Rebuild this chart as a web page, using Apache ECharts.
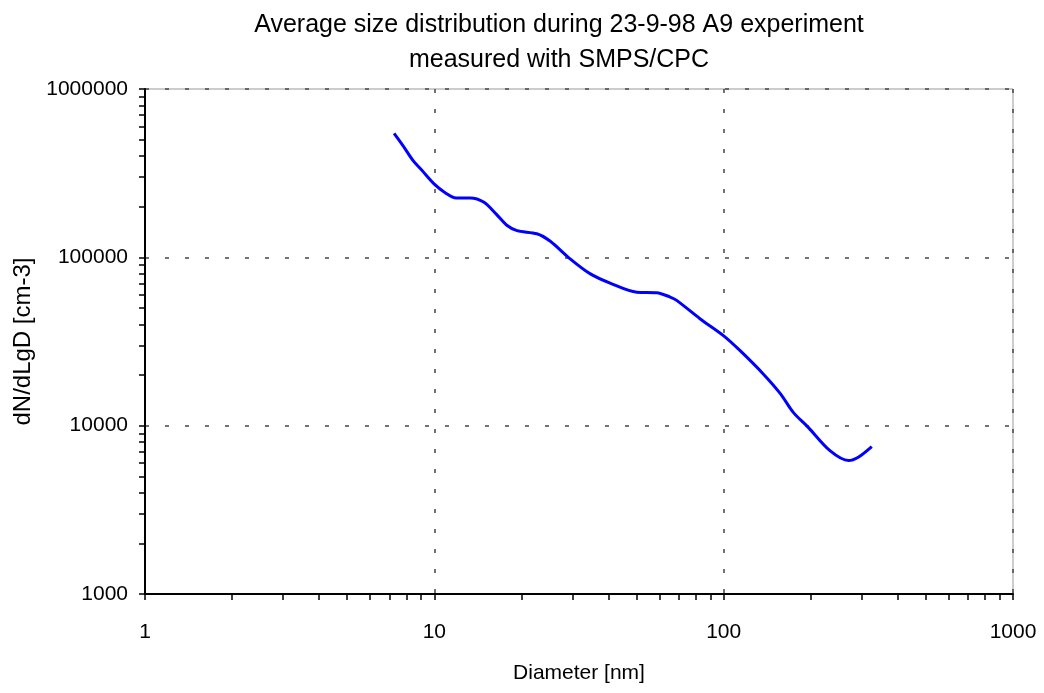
<!DOCTYPE html>
<html>
<head>
<meta charset="utf-8">
<script src="https://cdn.jsdelivr.net/npm/echarts@6/dist/echarts.min.js"></script>
<style>
  html, body { margin: 0; padding: 0; background: #fff; }
  #main { width: 1044px; height: 693px; }
</style>
</head>
<body>
<div id="main"></div>
<script>
// diameter in nm
var diameter = [7.26, 7.81, 8.46, 9.04, 10.0, 10.9, 11.9, 13.3, 14.8, 16.4, 17.8, 19.3, 22.6, 25.1, 29.4, 34.5, 40.5, 50.1, 58.7, 65.3, 68.8, 82.8, 99.8, 114, 137, 157, 174, 196, 233, 270, 292, 325];
// dN/dLgD in cm-3
var dndlgd = [545000, 458000, 374000, 330000, 272000, 242000, 225000, 225000, 213000, 180000, 155000, 144000, 138000, 125000, 98300, 80000, 70300, 62100, 61700, 58100, 55500, 43200, 34300, 27900, 20300, 15500, 12000, 9770, 7100, 6200, 6490, 7500];

// tick marks (major + minor) on the log axes
var xTicks = [1, 2, 3, 4, 5, 6, 7, 8, 9, 10, 20, 30, 40, 50, 60, 70, 80, 90, 100, 200, 300, 400, 500, 600, 700, 800, 900, 1000];
var yTicks = [1000, 2000, 3000, 4000, 5000, 6000, 7000, 8000, 9000, 10000, 20000, 30000, 40000, 50000, 60000, 70000, 80000, 90000,
              100000, 200000, 300000, 400000, 500000, 600000, 700000, 800000, 900000, 1000000];

var font = "'Liberation Sans', Arial, sans-serif";
var points = diameter.map(function (d, i) { return [d, dndlgd[i]]; });
var gridLine = { show: true, lineStyle: { color: '#444', type: [4, 16], width: 1.5 } };
var labelFmt = function (v) { return String(Math.round(v)); };

var chart = echarts.init(document.getElementById('main'));
chart.setOption({
  backgroundColor: '#fff',
  animation: false,
  title: {
    text: 'Average size distribution during 23-9-98 A9 experiment\nmeasured with SMPS/CPC',
    left: 554,
    top: 3,
    textAlign: 'center',
    textStyle: { fontFamily: font, fontSize: 25, fontWeight: 'normal', color: '#000', lineHeight: 35 }
  },
  grid: {
    left: 145, right: 31, top: 89, bottom: 99,
    show: true, borderColor: '#999', borderWidth: 1
  },
  xAxis: [{
    type: 'log', logBase: 10, min: 1, max: 1000, position: 'bottom',
    name: 'Diameter [nm]', nameLocation: 'middle', nameGap: 69,
    nameTextStyle: { fontFamily: font, fontSize: 21, color: '#000' },
    axisLine: { lineStyle: { color: '#000', width: 2 } },
    axisTick: { show: false },
    axisLabel: { margin: 28, fontFamily: font, fontSize: 21, color: '#000', formatter: labelFmt },
    splitLine: gridLine
  }, {
    // overlay axis only for the minor/major tick marks
    type: 'log', logBase: 10, min: 1, max: 1000, position: 'bottom', offset: 0,
    axisLine: { show: false },
    axisTick: { customValues: xTicks, length: 6, lineStyle: { color: '#000', width: 1.5 } },
    axisLabel: { show: false },
    splitLine: { show: false }
  }],
  yAxis: [{
    type: 'log', logBase: 10, min: 1000, max: 1000000, position: 'left',
    name: 'dN/dLgD [cm-3]', nameLocation: 'middle', nameGap: 108,
    nameTextStyle: { fontFamily: font, fontSize: 24, color: '#000' },
    axisLine: { show: true, lineStyle: { color: '#000', width: 2 } },
    axisTick: { show: false },
    axisLabel: { margin: 17, fontFamily: font, fontSize: 21, color: '#000', formatter: labelFmt },
    splitLine: gridLine
  }, {
    type: 'log', logBase: 10, min: 1000, max: 1000000, position: 'left', offset: 0,
    axisLine: { show: false },
    axisTick: { show: true, customValues: yTicks, length: 6, lineStyle: { color: '#000', width: 1.5 } },
    axisLabel: { show: false },
    splitLine: { show: false }
  }],
  series: [{
    type: 'line',
    xAxisIndex: 0,
    yAxisIndex: 0,
    data: points,
    smooth: 0.3,
    showSymbol: false,
    lineStyle: { color: '#0000ff', width: 3 }
  }]
});
</script>
</body>
</html>
